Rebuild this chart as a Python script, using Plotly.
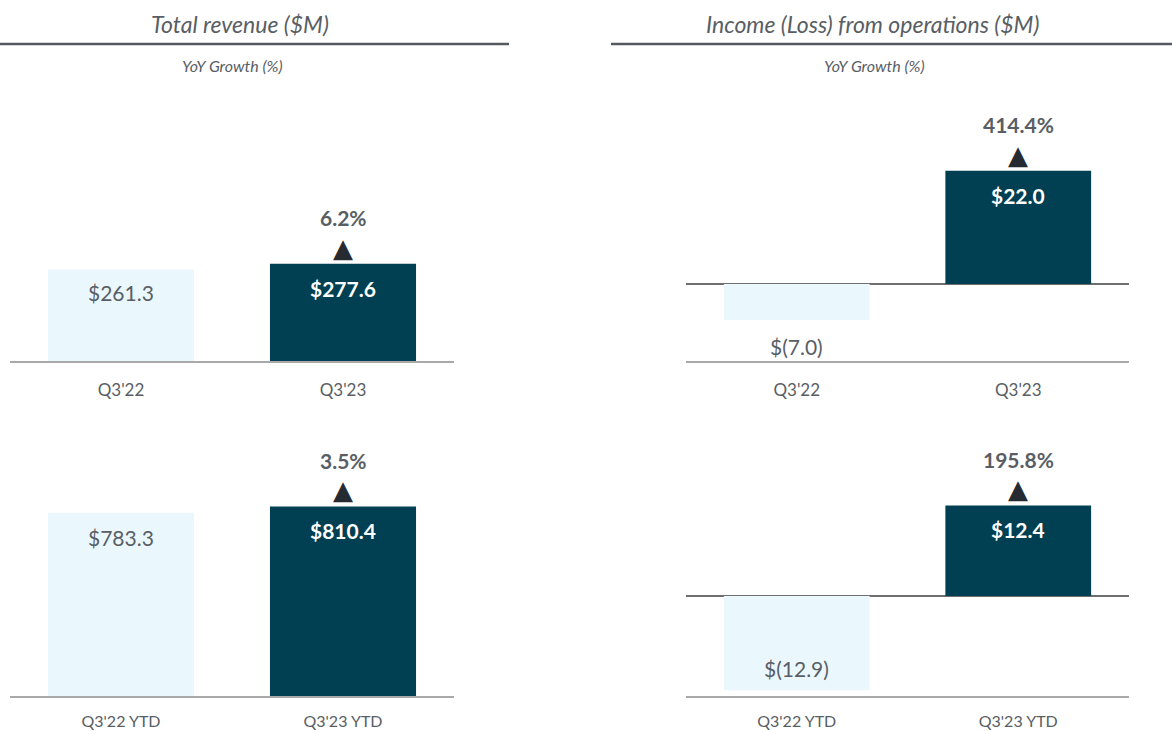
import plotly.graph_objects as go

# ---------------- data ----------------
rev_q_cats = ["Q3'22", "Q3'23"]
rev_q_vals = [261.3, 277.6]
rev_ytd_cats = ["Q3'22 YTD", "Q3'23 YTD"]
rev_ytd_vals = [783.3, 810.4]
inc_q_cats = ["Q3'22", "Q3'23"]
inc_q_vals = [-7.0, 22.0]
inc_ytd_cats = ["Q3'22 YTD", "Q3'23 YTD"]
inc_ytd_vals = [-12.9, 12.4]

rev_q_labels = ["$261.3", "$277.6"]
rev_ytd_labels = ["$783.3", "$810.4"]
inc_q_labels = ["$(7.0)", "$22.0"]
inc_ytd_labels = ["$(12.9)", "$12.4"]

growth_rev_q = "6.2%"
growth_rev_ytd = "3.5%"
growth_inc_q = "414.4%"
growth_inc_ytd = "195.8%"

titles = ["Total revenue ($M)", "Income (Loss) from operations ($M)"]
subtitle = "YoY Growth (%)"

# ---------------- style ----------------
W, H = 1172, 731
LIGHT = "#eaf8fe"
DARK = "#004052"
TXT = "#595e64"
TRI = "#262b31"
AXIS = "#a9a9a9"
ZERO = "#6f6f6f"
FONT = "Lato"

def px_x(p):
    return p / W

def px_y(p):
    return (H - p) / H

x_left = [px_x(10), px_x(454)]
x_right = [px_x(686), px_x(1129)]
y_top = [px_y(361), px_y(90)]
y_bot = [px_y(696), px_y(430)]

panels = [
    # (axis suffix, cats, vals, labels, growth, xdom, ydom, yrange, label shifts, tick size, standoff)
    ("", rev_q_cats, rev_q_vals, rev_q_labels, growth_rev_q, x_left, y_top, [0, 773], [-23, -25], 17, 13),
    ("2", inc_q_cats, inc_q_vals, inc_q_labels, growth_inc_q, x_right, y_top, [-14.95, 37.67], [-26, -25], 17, 13),
    ("3", rev_ytd_cats, rev_ytd_vals, rev_ytd_labels, growth_rev_ytd, x_left, y_bot, [0, 1137], [-25, -24], 16, 10),
    ("4", inc_ytd_cats, inc_ytd_vals, inc_ytd_labels, growth_inc_ytd, x_right, y_bot, [-13.7, 22.74], [22, -24], 16, 10),
]

fig = go.Figure()
annotations = []
layout_axes = {}

for suf, cats, vals, labels, growth, xd, yd, yr, shifts, tsize, tstand in panels:
    xa = "x" + suf
    ya = "y" + suf
    fig.add_trace(go.Bar(
        x=cats, y=vals, xaxis=xa, yaxis=ya,
        marker=dict(color=[LIGHT, DARK], line=dict(width=0)),
        hoverinfo="skip", showlegend=False,
    ))
    has_neg = min(vals) < 0
    layout_axes["xaxis" + suf] = dict(
        domain=xd, anchor=ya, showgrid=False, zeroline=False,
        showline=True, linecolor=AXIS, linewidth=2,
        ticks="", ticklabelstandoff=tstand, automargin=False,
        tickfont=dict(family=FONT, size=tsize, color=TXT),
        fixedrange=True,
    )
    layout_axes["yaxis" + suf] = dict(
        domain=yd, anchor=xa, range=yr, showgrid=False,
        showticklabels=False, showline=False, automargin=False,
        zeroline=has_neg, zerolinecolor=ZERO, zerolinewidth=2,
        fixedrange=True,
    )
    # value labels
    for i, (c, v, lab) in enumerate(zip(cats, vals, labels)):
        dark = i == 1
        annotations.append(dict(
            x=c, y=v, xref=xa, yref=ya, text=lab, showarrow=False,
            yanchor="middle", yshift=shifts[i],
            font=dict(family=FONT, size=21, color="white" if dark else TXT,
                      weight="bold" if dark else "normal"),
        ))
    # growth arrow + text on second bar
    annotations.append(dict(
        x=cats[1], y=vals[1], xref=xa, yref=ya, text="▲", showarrow=False,
        yanchor="middle", yshift=16,
        font=dict(family="DejaVu Sans", size=26, color=TRI),
    ))
    annotations.append(dict(
        x=cats[1], y=vals[1], xref=xa, yref=ya, text=growth, showarrow=False,
        yanchor="middle", yshift=46,
        font=dict(family=FONT, size=21, color=TXT, weight="bold"),
    ))

# titles
for tx, cx in zip(titles, [240, 872]):
    annotations.append(dict(
        x=px_x(cx), y=px_y(24), xref="paper", yref="paper", text=tx,
        showarrow=False, xanchor="center", yanchor="middle",
        font=dict(family=FONT, size=23, color=TXT, style="italic"),
    ))
for cx in [232, 874]:
    annotations.append(dict(
        x=px_x(cx), y=px_y(66), xref="paper", yref="paper", text=subtitle,
        showarrow=False, xanchor="center", yanchor="middle",
        font=dict(family=FONT, size=16, color=TXT, style="italic"),
    ))

shapes = [
    dict(type="line", xref="paper", yref="paper", x0=0, x1=px_x(509),
         y0=px_y(44), y1=px_y(44), line=dict(color="#55595f", width=2.5)),
    dict(type="line", xref="paper", yref="paper", x0=px_x(611), x1=1,
         y0=px_y(44), y1=px_y(44), line=dict(color="#55595f", width=2.5)),
]

fig.update_layout(
    width=W, height=H, margin=dict(l=0, r=0, t=0, b=0, autoexpand=False),
    paper_bgcolor="white", plot_bgcolor="white",
    bargap=0.342, showlegend=False,
    annotations=annotations, shapes=shapes,
    **layout_axes,
)

fig.write_html(
    "out.html",
    config={"displayModeBar": False},
    post_script="document.body.style.margin='0';document.body.style.overflow='hidden';",
)
